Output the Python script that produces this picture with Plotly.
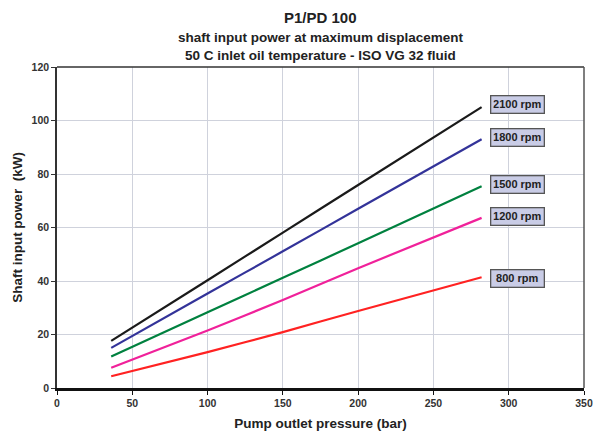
import plotly.graph_objects as go

pressure = [36, 100, 150, 200, 282]
p2100 = [17.6, 40.3, 58.1, 75.9, 105.0]
p1800 = [15.0, 35.3, 51.1, 67.0, 93.0]
p1500 = [11.8, 28.3, 41.2, 54.1, 75.4]
p1200 = [7.6, 21.5, 32.9, 44.8, 63.6]
p800 = [4.4, 13.4, 20.9, 28.8, 41.4]

series = [
    ("2100 rpm", p2100, "#1a1a1a", 105.8),
    ("1800 rpm", p1800, "#333399", 93.5),
    ("1500 rpm", p1500, "#00813f", 76.0),
    ("1200 rpm", p1200, "#f0219a", 64.3),
    ("800 rpm", p800, "#ff2222", 41.1),
]
label_x = 306

x_ticks = [0, 50, 100, 150, 200, 250, 300, 350]
y_ticks = [0, 20, 40, 60, 80, 100, 120]

fig = go.Figure()
for name, vals, col, ly in series:
    fig.add_trace(go.Scatter(x=pressure, y=vals, mode="lines", name=name,
                             line=dict(color=col, width=2.2, shape="spline", smoothing=0.6),
                             showlegend=False))
    fig.add_annotation(x=label_x, y=ly, text="<b>%s</b>" % name, showarrow=False,
                       font=dict(family="Liberation Sans, Arial", size=11, color="#222"),
                       bgcolor="#c9cce6", bordercolor="#555", borderwidth=1.3,
                       borderpad=2, width=48)

font = "Liberation Sans, Arial, sans-serif"
fig.add_annotation(x=0.5, y=1, xref="paper", yref="paper", yanchor="bottom", yshift=39,
                   text="<b>P1/PD 100</b>", showarrow=False,
                   font=dict(family=font, size=15, color="#222"))
fig.add_annotation(x=0.5, y=1, xref="paper", yref="paper", yanchor="bottom", yshift=20,
                   text="<b>shaft input power at maximum displacement</b>", showarrow=False,
                   font=dict(family=font, size=13.5, color="#222"))
fig.add_annotation(x=0.5, y=1, xref="paper", yref="paper", yanchor="bottom", yshift=2,
                   text="<b>50 C inlet oil temperature - ISO VG 32 fluid</b>", showarrow=False,
                   font=dict(family=font, size=13.5, color="#222"))

fig.update_layout(
    width=594, height=432,
    margin=dict(l=57, r=10, t=67, b=44),
    paper_bgcolor="white", plot_bgcolor="white",
    font=dict(family=font, color="#222"),
)
fig.update_xaxes(range=[0, 350], tickvals=x_ticks, ticktext=["<b>%d</b>" % v for v in x_ticks],
                 tickfont=dict(size=10.5, color="#333"), automargin=False,
                 showgrid=True, gridcolor="#cfd2dc", gridwidth=1.2,
                 showline=True, linecolor="#111", linewidth=2.5, mirror=False,
                 ticks="outside", ticklen=4, tickcolor="#111",
                 title=dict(text="<b>Pump outlet pressure (bar)</b>", font=dict(size=13.5), standoff=11),
                 zeroline=False)
fig.update_yaxes(range=[0, 120], tickvals=y_ticks, ticktext=["<b>%d</b>" % v for v in y_ticks],
                 tickfont=dict(size=10.5, color="#333"), automargin=False,
                 showgrid=True, gridcolor="#cfd2dc", gridwidth=1.2,
                 showline=True, linecolor="#333", linewidth=1.5,
                 ticks="outside", ticklen=4, tickcolor="#333",
                 title=dict(text="<b>Shaft input power  (kW)</b>", font=dict(size=13.5), standoff=6),
                 zeroline=False)
fig.add_shape(type="line", xref="paper", yref="paper", x0=0, x1=1, y0=1, y1=1,
              line=dict(color="#333", width=1.5))
fig.add_shape(type="line", xref="paper", yref="paper", x0=1, x1=1, y0=0, y1=1,
              line=dict(color="#555", width=1.5))

fig.write_html("out.html", config={"displayModeBar": False},
               post_script="document.body.style.margin='0';document.body.style.overflow='hidden';")
